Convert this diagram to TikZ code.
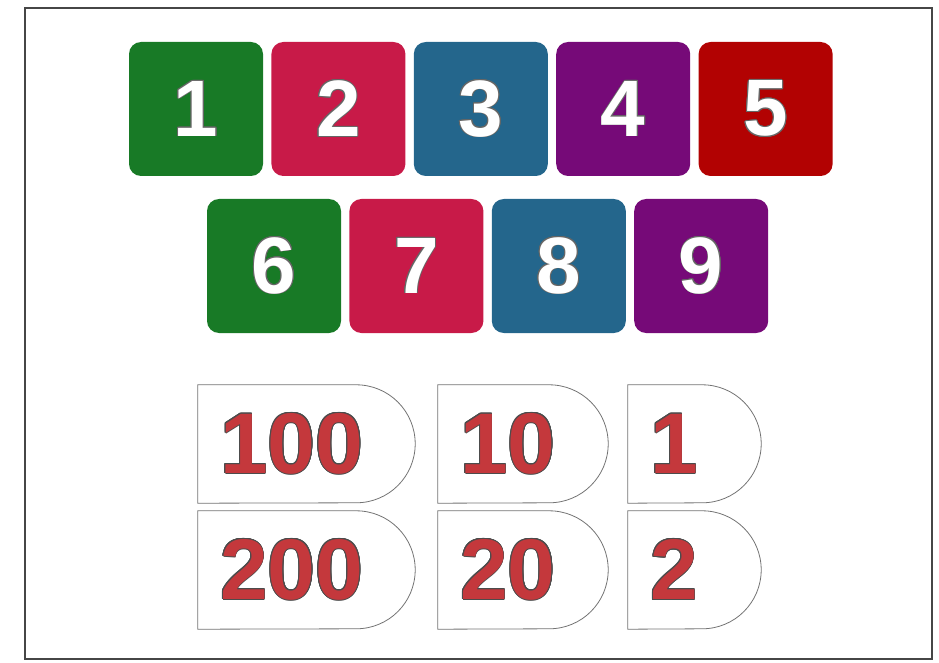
\documentclass[tikz,border=0pt]{standalone}
\usepackage{fontspec}
\setmainfont{Liberation Sans}
\usepackage{contour}
\contourlength{0.9pt}
\usepackage{tikz}
\usetikzlibrary{positioning}
\definecolor{leaf}{RGB}{24,122,38}
\definecolor{crimson}{RGB}{200,26,72}
\definecolor{ocean}{RGB}{36,102,140}
\definecolor{plum}{RGB}{118,10,120}
\definecolor{blood}{RGB}{178,2,2}
\definecolor{brick}{RGB}{196,56,60}
\definecolor{edge}{RGB}{70,70,70}
\tikzset{
  tile/.style={rounded corners=12pt,minimum width=134pt,minimum height=134pt,inner sep=0pt,
    text=white,font=\fontsize{80}{80}\selectfont\bfseries},
  half/.style={minimum height=118pt,inner xsep=22pt,inner ysep=0pt,align=left,
    text=brick,font=\fontsize{86}{86}\selectfont\bfseries},
  outline/.style={draw=black!55,line width=0.8pt}
}
\newcommand{\dshape}[1]{%
  \draw[outline] (#1.north west) -- ([xshift=-59pt]#1.north east)
    arc[start angle=90,end angle=-90,radius=59pt] -- (#1.south west) -- cycle;}

\begin{document}
\begin{tikzpicture}[x=1pt,y=-1pt,node distance=8pt]
\useasboundingbox (0,0) rectangle (939,663);
\draw[edge,line width=2pt] (25,8) rectangle (932,659);
% top row of tiles
\node[tile,fill=leaf] (t1) at (196,109) {\contour{black!60}{1}};
\node[tile,fill=crimson,right=of t1] (t2) {\contour{black!60}{2}};
\node[tile,fill=ocean,right=of t2] (t3) {\contour{black!60}{3}};
\node[tile,fill=plum,right=of t3] (t4) {\contour{black!60}{4}};
\node[tile,fill=blood,right=of t4] (t5) {\contour{black!60}{5}};
% second row
\node[tile,fill=leaf] (t6) at (274,266) {\contour{black!60}{6}};
\node[tile,fill=crimson,right=of t6] (t7) {\contour{black!60}{7}};
\node[tile,fill=ocean,right=of t7] (t8) {\contour{black!60}{8}};
\node[tile,fill=plum,right=of t8] (t9) {\contour{black!60}{9}};
% place values
\node[half,text width=173pt] (h100) at (306.5,444) {\contour{black!70}{100}};
\node[half,text width=126pt] (h10) at (523,444) {\contour{black!70}{10}};
\node[half,text width=89pt] (h1) at (694.5,444) {\contour{black!70}{1}};
\node[half,text width=173pt] (h200) at (306.5,570) {\contour{black!70}{200}};
\node[half,text width=126pt] (h20) at (523,570) {\contour{black!70}{20}};
\node[half,text width=89pt] (h2) at (694.5,570) {\contour{black!70}{2}};
\foreach \n in {h100,h10,h1,h200,h20,h2} {\dshape{\n}}
\end{tikzpicture}
\end{document}
